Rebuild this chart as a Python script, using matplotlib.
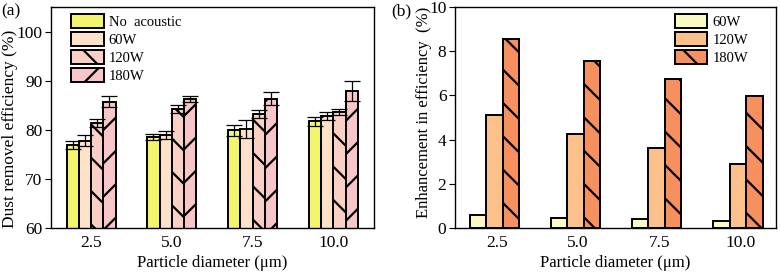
import numpy as np
import matplotlib.pyplot as plt

plt.rcParams['font.family'] = ['Liberation Serif', 'DejaVu Serif']
plt.rcParams['hatch.linewidth'] = 1.6

diam = [2.5, 5.0, 7.5, 10.0]
diam_labels = ['2.5', '5.0', '7.5', '10.0']

# (a) dust removal efficiency (%)
eff_labels = ['No  acoustic', '60W', '120W', '180W']
eff_none = [76.9, 78.5, 79.9, 81.7]
eff_60 = [77.8, 78.9, 80.1, 82.8]
eff_120 = [81.4, 84.3, 83.3, 83.6]
eff_180 = [85.7, 86.3, 86.3, 87.9]
err_none = [0.85, 0.55, 1.1, 0.85]
err_60 = [1.1, 0.85, 1.8, 0.9]
err_120 = [0.85, 0.8, 0.8, 0.6]
err_180 = [1.15, 0.55, 1.35, 2.0]

# (b) enhancement in efficiency (%)
enh_labels = ['60W', '120W', '180W']
enh_60 = [0.57, 0.47, 0.39, 0.33]
enh_120 = [5.13, 4.27, 3.63, 2.91]
enh_180 = [8.55, 7.56, 6.76, 5.99]

fig = plt.figure(figsize=(7.8, 2.72), dpi=100)
ax1 = fig.add_axes([0.065, 0.162, 0.414, 0.812])
ax2 = fig.add_axes([0.583, 0.162, 0.412, 0.812])

x = np.array(diam)
leg_kw = dict(frameon=False, fontsize=10.5, handlelength=2.25, handleheight=1.15,
              labelspacing=0.2, handletextpad=0.35, borderaxespad=0.2)

# panel a
w = 0.38
series_a = [eff_none, eff_60, eff_120, eff_180]
errs_a = [err_none, err_60, err_120, err_180]
cols_a = ['#f3f56c', '#fde1c9', '#fbd0c4', '#f8c6c8']
hatch_a = [None, None, '\\', '/']
for i in range(4):
    xi = x + (i - 1.5) * w
    ax1.bar(xi, series_a[i], w, bottom=0, color=cols_a[i], edgecolor='black',
            linewidth=1.4, hatch=hatch_a[i], label=eff_labels[i], zorder=2)
    ax1.errorbar(xi, series_a[i], yerr=errs_a[i], fmt='none', ecolor='black',
                 elinewidth=0.9, capsize=6, capthick=0.9, zorder=3)
ax1.set_xlim(1.25, 11.25)
ax1.set_ylim(60, 105)
ax1.set_yticks([60, 70, 80, 90, 100])
ax1.set_xticks(diam)
ax1.set_xticklabels(diam_labels)
ax1.set_xlabel('Particle diameter (μm)', fontsize=12, labelpad=3)
ax1.set_ylabel('Dust removel efficiency (%)', fontsize=12.5)
ax1.yaxis.set_label_coords(-0.1, 0.45)
ax1.tick_params(axis='x', direction='in', length=3, labelsize=12.5, pad=5)
ax1.tick_params(axis='y', direction='out', length=4, labelsize=12.5, pad=2)
ax1.legend(loc='upper left', bbox_to_anchor=(0.035, 1.01), **leg_kw)

# panel b
wb = 0.51
series_b = [enh_60, enh_120, enh_180]
cols_b = ['#fbfac3', '#fcc08b', '#f7905f']
hatch_b = [None, None, '\\']
for i in range(3):
    xi = x + (i - 1) * wb - 0.08
    ax2.bar(xi, series_b[i], wb, color=cols_b[i], edgecolor='black',
            linewidth=1.4, hatch=hatch_b[i], label=enh_labels[i], zorder=2)
ax2.set_xlim(1.2, 11.1)
ax2.set_ylim(0, 10)
ax2.set_yticks([0, 2, 4, 6, 8, 10])
ax2.set_xticks(diam)
ax2.set_xticklabels(diam_labels)
ax2.set_xlabel('Particle diameter (μm)', fontsize=12, labelpad=3)
ax2.set_ylabel('Enhancement in efficiency  (%)', fontsize=12)
ax2.yaxis.set_label_coords(-0.072, 0.525)
ax2.tick_params(axis='x', direction='in', length=3, labelsize=12.5, pad=5)
ax2.tick_params(axis='y', direction='out', length=4, labelsize=12.5, pad=2)
ax2.legend(loc='upper right', bbox_to_anchor=(0.94, 1.01), **leg_kw)

for ax in (ax1, ax2):
    for s in ax.spines.values():
        s.set_linewidth(1.0)

fig.text(0.002, 0.945, '(a)', fontsize=12.5)
fig.text(0.502, 0.945, '(b)', fontsize=12.5)

fig.savefig('out.png', dpi=100)
